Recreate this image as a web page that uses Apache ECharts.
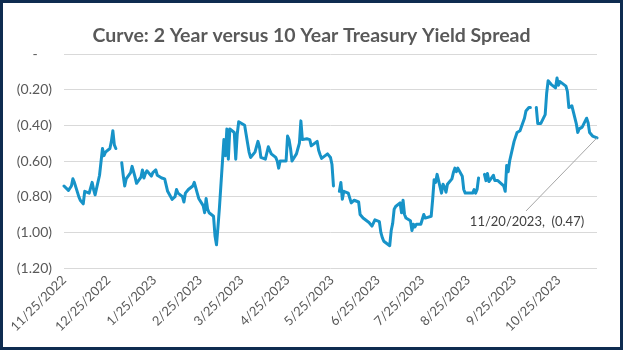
<!DOCTYPE html>
<html>
<head>
<meta charset="utf-8">
<script src="https://cdn.jsdelivr.net/npm/echarts@6.0.0/dist/echarts.min.js"></script>
<style>
html,body{margin:0;padding:0;background:#ffffff;}
#chart{width:623px;height:350px;}
</style>
</head>
<body>
<div id="chart"></div>
<script>
// ---- Data (2s10s Treasury spread, percent; trading days 11/25/2022 - 11/20/2023) ----
const chartTitle = 'Curve: 2 Year versus 10 Year Treasury Yield Spread';
const startDate = '2022-11-25';
const endDate = '2023-11-20';

const nov22 = [-0.74, -0.765, -0.77, -0.74];
const dec22 = [-0.70, -0.72, -0.80, -0.82, -0.83, -0.84, -0.77, -0.78, -0.77, -0.72, -0.76, -0.79,
               -0.68, -0.67, -0.53, -0.57, -0.55, -0.53, -0.49, -0.43, -0.51, -0.53];
const jan23 = [null, -0.61, -0.68, -0.74, -0.70, -0.665, -0.63, -0.66, -0.69, -0.725, -0.69, -0.65,
               -0.695, -0.67, -0.655, -0.685, -0.665, -0.66, -0.65, -0.68, -0.695, -0.69];
const feb23 = [-0.70, -0.69, -0.77, -0.815, -0.81, -0.80, -0.76, -0.78, -0.80, -0.83, -0.78, -0.77,
               -0.76, -0.74, -0.72, -0.73, -0.78, -0.81, -0.85, -0.89];
const mar23 = [-0.81, -0.87, -0.89, -0.91, -1.02, -1.07, -0.97, -0.86, -0.48, -0.57, -0.42, -0.59,
               -0.42, -0.44, -0.59, -0.45, -0.38, -0.38, -0.40, -0.45, -0.50, -0.55, -0.58];
const apr23 = [-0.55, -0.52, -0.49, -0.52, -0.58, -0.59, -0.60, -0.52, -0.51, -0.56, -0.58, -0.60,
               -0.64, -0.60, -0.60, -0.60, -0.46, -0.48, -0.53, -0.60];
const may23 = [-0.56, -0.53, -0.50, -0.375, -0.48, -0.475, -0.475, -0.48, -0.515, -0.505, -0.49, -0.54,
               -0.565, -0.585, -0.58, -0.56, -0.555, -0.58, -0.62, -0.74, null, -0.77, -0.72];
const jun23 = [-0.815, -0.77, -0.78, -0.78, -0.835, -0.83, -0.82, -0.83, -0.90, -0.91, -0.92, -0.92,
               -0.945, -0.955, -0.965, -0.965, -0.93, -0.94, -1.00, -1.03, -1.05, -1.06];
const jul23 = [-1.075, -0.99, -0.95, -0.87, -0.855, -0.835, -0.89, -0.82, -0.90, -0.92, -0.935, -0.99,
               -0.955, -0.97, -0.955, -0.955, -0.95, -0.90, -0.92, -0.92, -0.91];
const aug23 = [-0.815, -0.705, -0.72, -0.675, -0.78, -0.73, -0.745, -0.775, -0.73, -0.70, -0.665, -0.64,
               -0.66, -0.64, -0.685, -0.76, -0.78, -0.78, -0.78, -0.78, -0.76, -0.78, -0.76];
const sep23 = [-0.695, null, -0.675, -0.71, -0.67, -0.715, -0.68, -0.71, -0.70, -0.71, -0.70, -0.74,
               -0.77, -0.625, -0.66, -0.60, -0.49, -0.50, -0.44, -0.44, -0.43];
const oct23 = [-0.36, -0.32, -0.31, -0.30, -0.30, null, -0.30, -0.39, -0.40, -0.39, -0.34, -0.22,
               -0.15, -0.16, -0.17, -0.19, -0.135, -0.175, -0.155, -0.155, -0.18, -0.21];
const nov23 = [-0.30, -0.29, -0.29, -0.39, -0.44, -0.42, -0.43, -0.41, -0.36, -0.385, -0.44, -0.45,
               -0.46, -0.47];

const xTickLabels = ['11/25/2022', '12/25/2022', '1/25/2023', '2/25/2023', '3/25/2023', '4/25/2023',
                     '5/25/2023', '6/25/2023', '7/25/2023', '8/25/2023', '9/25/2023', '10/25/2023'];
const yMin = -1.2, yMax = 0, yStep = 0.2;

// ---- Helpers ----
function parseISO(s) { const p = s.split('-').map(Number); return new Date(p[0], p[1] - 1, p[2]); }
function parseMDY(s) { const p = s.split('/').map(Number); return new Date(p[2], p[0] - 1, p[1]); }
function tradingDays(a, b) {
  const out = []; const d = parseISO(a); const e = parseISO(b);
  while (d <= e) { const w = d.getDay(); if (w !== 0 && w !== 6) out.push(new Date(d)); d.setDate(d.getDate() + 1); }
  return out;
}
function fmtDate(t) { const d = new Date(t); return (d.getMonth() + 1) + '/' + d.getDate() + '/' + d.getFullYear(); }
function fmtAcct(v) {
  if (Math.abs(v) < 1e-9) return '-    ';
  return v < 0 ? '(' + Math.abs(v).toFixed(2) + ')' : v.toFixed(2) + ' ';
}

const dates = tradingDays(startDate, endDate);
const spread = [].concat(nov22, dec22, jan23, feb23, mar23, apr23, may23, jun23, jul23, aug23, sep23, oct23, nov23);
if (dates.length !== spread.length) console.error('length mismatch', dates.length, spread.length);
const last = spread.length - 1;
const lineColor = '#1793C8';

const seriesData = dates.map((d, i) => {
  const v = spread[i] === null ? '-' : spread[i];
  if (i === last) {
    return { value: [d.getTime(), v], symbol: 'circle', symbolSize: 2, label: { show: true } };
  }
  return [d.getTime(), v];
});

const chart = echarts.init(document.getElementById('chart'), null, { renderer: 'canvas' });
chart.setOption({
  animation: false,
  backgroundColor: '#ffffff',
  title: {
    text: chartTitle,
    left: 'center',
    top: 21,
    textStyle: { fontFamily: 'Lato', fontWeight: 'bold', fontSize: 19.5, color: '#595959' }
  },
  graphic: [{
    type: 'rect', silent: true, z: 100,
    shape: { x: 1.5, y: 1.5, width: 620, height: 347 },
    style: { fill: null, stroke: '#0E2C50', lineWidth: 3 }
  }],
  grid: { left: 64, right: 26, top: 54, bottom: 82 },
  xAxis: {
    type: 'value',
    min: parseISO(startDate).getTime(),
    max: parseISO(endDate).getTime(),
    axisLine: { show: false },
    axisTick: { show: false },
    splitLine: { show: false },
    axisLabel: {
      customValues: xTickLabels.map(s => parseMDY(s).getTime()),
      formatter: v => fmtDate(v),
      rotate: 45,
      margin: 10,
      showMinLabel: true,
      hideOverlap: false,
      color: '#595959',
      fontFamily: 'Lato',
      fontSize: 13
    }
  },
  yAxis: {
    type: 'value',
    min: yMin, max: yMax, interval: yStep,
    axisLine: { show: false },
    axisTick: { show: false },
    splitLine: { lineStyle: { color: '#D9D9D9', width: 1 } },
    axisLabel: {
      formatter: v => fmtAcct(v),
      margin: 12,
      color: '#595959',
      fontFamily: 'Lato',
      fontSize: 14
    }
  },
  series: [{
    type: 'line',
    data: seriesData,
    symbol: 'none',
    showSymbol: true,
    connectNulls: false,
    lineStyle: { color: lineColor, width: 3, cap: 'round', join: 'round' },
    itemStyle: { color: lineColor },
    emphasis: { disabled: true },
    label: {
      show: false,
      formatter: p => fmtDate(p.value[0]) + ',  (' + Math.abs(p.value[1]).toFixed(2) + ')',
      color: '#404040',
      fontFamily: 'Lato',
      fontSize: 13
    },
    labelLayout: p => (p.dataIndex === last ? { x: 527, y: 222, align: 'center', verticalAlign: 'middle' } : null),
    markLine: {
      silent: true,
      symbol: ['none', 'none'],
      label: { show: false },
      emphasis: { disabled: true },
      lineStyle: { color: '#A6A6A6', width: 1, type: 'solid' },
      data: [[
        { coord: [dates[last].getTime(), spread[last]] },
        { x: 526, y: 211 }
      ]]
    }
  }]
});
</script>
</body>
</html>
